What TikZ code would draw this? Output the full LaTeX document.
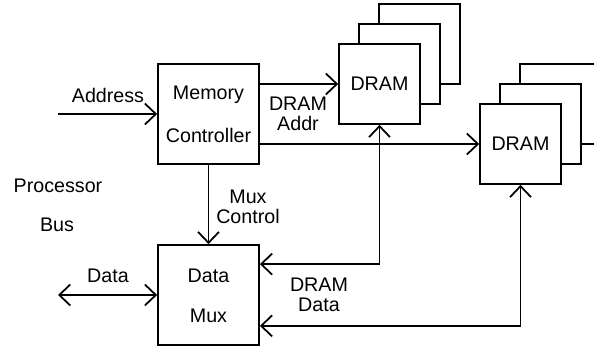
\documentclass[tikz,border=0pt]{standalone}
\usepackage{fontspec}
\setmainfont{Liberation Sans}
\usetikzlibrary{arrows.meta, calc, math}

\tikzset{
  blk/.style={draw=black, fill=white, line width=1pt, minimum width=2.02cm, minimum height=2cm, inner sep=0pt},
  chip/.style={blk, minimum width=1.62cm, minimum height=1.6cm},
  txt/.style={font=\fontsize{11.2}{11.4}\selectfont, align=center, inner sep=0pt},
  bus/.style={line width=1pt, -{Straight Barb[length=0.22cm, width=0.42cm, line width=1pt]}},
  dbus/.style={bus, {Straight Barb[length=0.22cm, width=0.42cm, line width=1pt]}-{Straight Barb[length=0.22cm, width=0.42cm, line width=1pt]}}
}

\begin{document}
\begin{tikzpicture}[x=0.02cm, y=-0.02cm]
\tikzmath{
\dx=20;
}
\useasboundingbox (0,0) rectangle (594,350);
\clip (0,0) rectangle (594,350);

% controller and mux
\node[blk] (mc) at (208.5,114) {};
\node[blk] (mux) at (208.5,295) {};
\node[txt] (mcA) at (208.5,95) {Memory};
\node[txt] (mcB) at (208.5,135) {Controller};
\node[txt] (muxA) at (208.5,276) {Data};
\node[txt] (muxB) at (208.5,316) {Mux};

% first DRAM stack
\node[chip] (dramA3) at (379.5+2*\dx,84-2*\dx) {};
\node[chip] (dramA2) at (379.5+\dx,84-\dx) {};
\node[chip] (dramA) at (379.5,84) {};
\node[txt] at (dramA) {DRAM};

% second DRAM stack
\node[chip] (dramB3) at (520.5+2*\dx,144-2*\dx) {};
\node[chip] (dramB2) at (520.5+\dx,144-\dx) {};
\node[chip] (dramB) at (520.5,144) {};
\node[txt] at (dramB) {DRAM};

% free ends and taps
\coordinate (addrIn) at (58,114);
\coordinate (dataOut) at (58,295);
\coordinate (muxIn1) at ($(mux.north east)+(0,20)$);
\coordinate (muxIn2) at ($(mux.south east)+(0,-20)$);

% connections
\draw[bus] (addrIn) -- (mc.west);
\draw[bus] (mc.east |- dramA.west) -- (dramA.west);
\draw[bus] (mc.east |- dramB.west) -- (dramB.west);
\draw[bus] (mc.south) -- (mux.north);
\draw[dbus] (dataOut) -- (mux.west);
\draw[dbus] (dramA.south) -- (dramA.south |- muxIn1) -- (muxIn1);
\draw[dbus] (dramB.south) -- (dramB.south |- muxIn2) -- (muxIn2);

% labels
\node[txt] (lAddr) at (108,95) {Address};
\node[txt] (lDaddr) at (298,114) {DRAM\\Addr};
\node[txt] (lMux) at (248,207) {Mux\\Control};
\node[txt] (lData) at (108,276) {Data};
\node[txt] (lDdata) at (319,295) {DRAM\\Data};
\node[txt] (lProc) at (58,186) {Processor};
\node[txt] (lBus) at (57,225) {Bus};
\end{tikzpicture}
\end{document}
